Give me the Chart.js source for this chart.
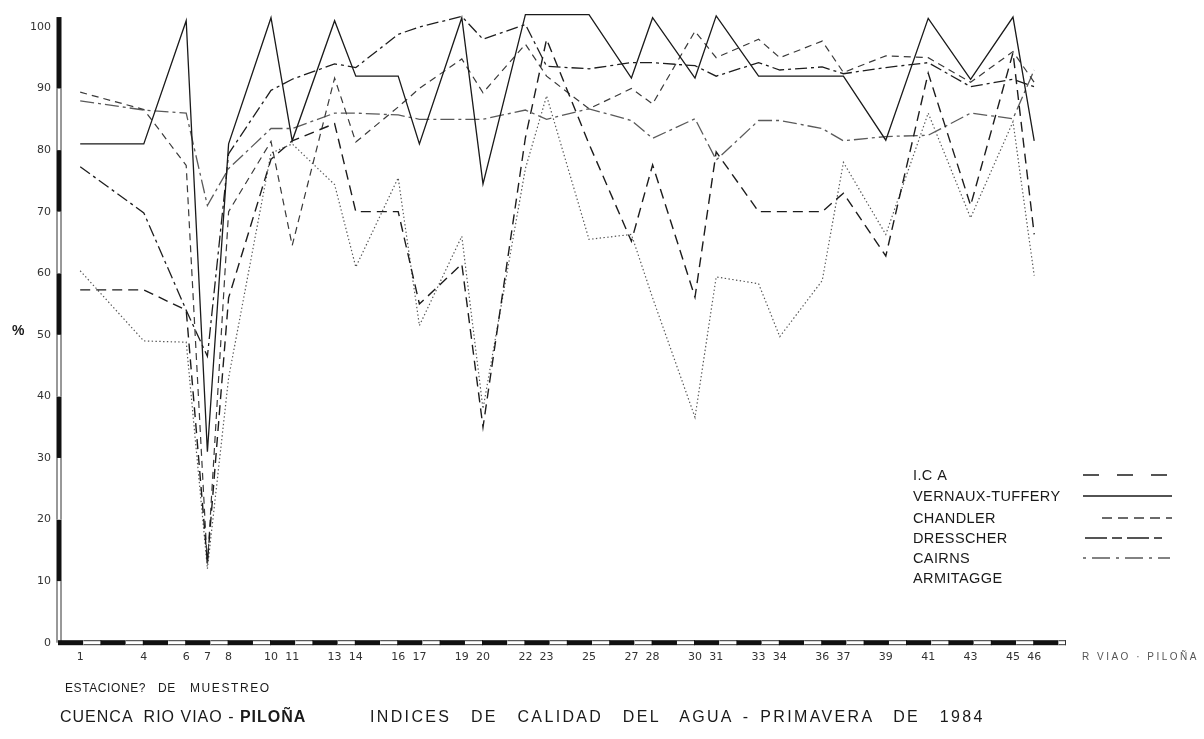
<!DOCTYPE html>
<html lang="es">
<head>
<meta charset="utf-8">
<title>Cuenca Río Viao - Piloña · Índices de calidad del agua</title>
<script src="https://cdn.jsdelivr.net/npm/chart.js@4.4.1/dist/chart.umd.min.js"></script>
<style>
  html, body { margin: 0; padding: 0; background: #fff; }
  #wrap { position: relative; width: 1204px; height: 739px; overflow: hidden; }
  #c { position: absolute; left: 0; top: 0; }
  .txt { position: absolute; white-space: pre; font-family: "Liberation Sans", Arial, sans-serif; color: #1a1a1a; line-height: 1; }
</style>
</head>
<body>
<div id="wrap">
  <canvas id="c" width="1204" height="739"></canvas>
  <div class="txt" style="left:12px;top:323px;font-size:14px;font-weight:bold;">%</div>
  <div class="txt" style="left:1082px;top:652px;font-size:10px;letter-spacing:2.5px;color:#555;">R VIAO · PILOÑA</div>
  <div class="txt" style="left:65px;top:682px;font-size:12px;letter-spacing:0.6px;">ESTACIONE?</div>
  <div class="txt" style="left:158px;top:682px;font-size:12px;letter-spacing:0.6px;">DE</div>
  <div class="txt" style="left:190px;top:682px;font-size:12px;letter-spacing:1.6px;">MUESTREO</div>
  <div class="txt" style="left:60px;top:709px;font-size:16px;letter-spacing:1px;">CUENCA  RIO VIAO - <b>PILOÑA</b></div>
  <div class="txt" style="left:370px;top:709px;font-size:16px;letter-spacing:2.35px;word-spacing:3px;">INDICES  DE  CALIDAD  DEL  AGUA - PRIMAVERA  DE  1984</div>
</div>
<script>
// Sampling stations along the Viao - Piloña river
const stations = [1, 4, 6, 7, 8, 10, 11, 13, 14, 16, 17, 19, 20, 22, 23, 25, 27, 28, 30, 31, 33, 34, 36, 37, 39, 41, 43, 45, 46];

// Percentage axis ticks
const percentTicks = [0, 10, 20, 30, 40, 50, 60, 70, 80, 90, 100];

// Water-quality indices (%) per station, spring 1984
const ica       = [57.3, 57.3, 54, 13, 56, 78.5, 81.5, 84.3, 70, 70, 55, 61.5, 35, 82, 98, 81, 65.2, 77.6, 56.1, 79.7, 70, 70, 70, 73, 62.8, 92.5, 71, 95.8, 66.3];
const vernaux   = [81, 81, 101, 31, 81, 101.5, 81.5, 101, 92, 92, 81, 101.5, 74.5, 102, 102, 102, 91.7, 101.5, 91.7, 101.8, 92, 92, 92, 92, 81.6, 101.4, 91.5, 101.6, 81.5];
const chandler  = [89.4, 86.6, 77.5, 12.5, 70, 81.4, 64.5, 91.7, 81.3, 87, 90, 94.8, 89.3, 97.2, 92, 86.7, 90, 87.5, 99.3, 95, 98, 95, 97.7, 92.6, 95.3, 95, 91, 96, 91];
const dresscher = [77.3, 69.8, 54, 46.5, 79.4, 89.7, 91.5, 94, 93.4, 98.8, 100, 101.7, 98, 100.4, 93.6, 93.2, 94.2, 94.2, 93.7, 92, 94.2, 93, 93.5, 92.4, 93.4, 94.2, 90.3, 91.5, 90.3];
const cairns    = [88, 86.5, 86, 71, 77, 83.5, 83.5, 86, 86, 85.7, 85, 85, 85, 86.5, 85, 86.7, 84.8, 81.9, 85.1, 78.4, 84.8, 84.8, 83.5, 81.5, 82.2, 82.4, 86, 85.1, 93];
const armitagge = [60.4, 49, 48.8, 12, 43, 79.5, 81, 74.4, 61, 75.5, 51.5, 66, 38, 77, 88.8, 65.5, 66.3, 56, 36.6, 59.4, 58.3, 49.7, 58.8, 78, 66.3, 86, 69, 84.6, 59.6];

const toPoints = vals => stations.map((s, i) => ({ x: s, y: vals[i] }));

// Line styles of each index, with the dash used in the key
const series = [
  { label: 'I.C A',           data: ica,       color: '#1c1c1c', width: 1.4, dash: [10, 6],        keyDash: [16, 18],      key: [1083, 1173] },
  { label: 'VERNAUX-TUFFERY', data: vernaux,   color: '#1a1a1a', width: 1.3, dash: [],             keyDash: [],            key: [1083, 1172] },
  { label: 'CHANDLER',        data: chandler,  color: '#3a3a3a', width: 1.2, dash: [7, 5],         keyDash: [10, 6],       key: [1102, 1172] },
  { label: 'DRESSCHER',       data: dresscher, color: '#1e1e1e', width: 1.3, dash: [12, 4, 3, 4],  keyDash: [22, 5, 10, 5],key: [1085, 1162] },
  { label: 'CAIRNS',          data: cairns,    color: '#5a5a5a', width: 1.3, dash: [14, 4, 3, 4],  keyDash: [3, 6, 18, 6], key: [1083, 1170] },
  { label: 'ARMITAGGE',       data: armitagge, color: '#555555', width: 1.2, dash: [1.4, 2.4],     keyDash: null,          key: null }
];

// Hand-drawn style axes: banded vertical and horizontal bars
const bandedAxes = {
  id: 'bandedAxes',
  afterDatasetsDraw(chart) {
    const { ctx, scales: { x, y } } = chart;
    ctx.save();
    const ink = '#111';
    // vertical bar, alternating every 10 %
    const vx = chart.chartArea.left - 2.5, vw = 5;
    for (let v = 0; v < 100; v += 10) {
      const top = y.getPixelForValue(v === 90 ? 101.6 : v + 10);
      const bot = y.getPixelForValue(v);
      if ((v / 10) % 2 === 1) {
        ctx.fillStyle = ink;
        ctx.fillRect(vx, top, vw, bot - top);
      } else {
        ctx.fillStyle = '#fff';
        ctx.fillRect(vx, top, vw, bot - top);
        ctx.strokeStyle = '#333';
        ctx.lineWidth = 1;
        ctx.beginPath();
        ctx.moveTo(vx + 0.5, top); ctx.lineTo(vx + 0.5, bot);
        ctx.moveTo(vx + vw - 0.5, top); ctx.lineTo(vx + vw - 0.5, bot);
        ctx.stroke();
      }
    }
    // horizontal bar, black / open segments every two stations
    const hy = y.getPixelForValue(0) - 2.5, hh = 5;
    const xmax = x.max;
    for (let s = 0; s < xmax; s += 2) {
      const b0 = x.getPixelForValue(s) - 1;
      const b1 = x.getPixelForValue(Math.min(s + 1.15, xmax));
      ctx.fillStyle = ink;
      ctx.fillRect(b0, hy, b1 - b0, hh);
      if (s + 1.15 < xmax) {
        const w1 = x.getPixelForValue(Math.min(s + 2, xmax));
        ctx.fillStyle = '#fff';
        ctx.fillRect(b1, hy, w1 - b1, hh);
        ctx.strokeStyle = '#333';
        ctx.lineWidth = 1;
        ctx.beginPath();
        ctx.moveTo(b1, hy + 0.5); ctx.lineTo(w1, hy + 0.5);
        ctx.moveTo(b1, hy + hh - 0.5); ctx.lineTo(w1, hy + hh - 0.5);
        if (w1 >= x.getPixelForValue(xmax) - 0.5) { ctx.moveTo(w1 - 0.5, hy); ctx.lineTo(w1 - 0.5, hy + hh); }
        ctx.stroke();
      }
    }
    ctx.restore();
  }
};

// Key in the lower right corner of the plot
const keyRows = [476, 497, 519, 539, 559, 579];
const keyText = {
  id: 'keyText',
  afterDraw(chart) {
    const { ctx } = chart;
    ctx.save();
    ctx.font = '14.5px "Liberation Sans", Arial, sans-serif';
    ctx.textBaseline = 'middle';
    ctx.fillStyle = '#1a1a1a';
    if ('letterSpacing' in ctx) ctx.letterSpacing = '0.4px';
    chart.data.datasets.forEach((ds, i) => {
      const yRow = keyRows[i];
      ctx.fillText(ds.label, 913, yRow);
      const s = series[i];
      if (s.key) {
        ctx.strokeStyle = ds.borderColor;
        ctx.lineWidth = 1.6;
        ctx.setLineDash(s.keyDash);
        ctx.beginPath();
        ctx.moveTo(s.key[0], yRow - 1);
        ctx.lineTo(s.key[1], yRow - 1);
        ctx.stroke();
        ctx.setLineDash([]);
      }
    });
    ctx.restore();
  }
};

const tickFont = { family: '"DejaVu Sans", sans-serif', size: 11 };

new Chart(document.getElementById('c'), {
  type: 'line',
  data: {
    datasets: series.map(s => ({
      label: s.label,
      data: toPoints(s.data),
      borderColor: s.color,
      borderWidth: s.width,
      borderDash: s.dash,
      pointRadius: 0,
      tension: 0,
      fill: false,
      clip: false
    }))
  },
  options: {
    responsive: false,
    devicePixelRatio: 1,
    animation: false,
    events: [],
    layout: { padding: { left: 0, right: 138, top: 8, bottom: 66.3 } },
    plugins: { legend: { display: false }, tooltip: { enabled: false }, title: { display: false } },
    scales: {
      x: {
        type: 'linear',
        min: 0,
        max: 47.5,
        grid: { display: false, drawTicks: false },
        border: { display: false },
        afterBuildTicks: axis => { axis.ticks = stations.map(v => ({ value: v })); },
        afterFit: axis => { axis.height = 30; },
        ticks: { autoSkip: false, maxRotation: 0, padding: 8, color: '#333', font: tickFont, callback: v => String(v) }
      },
      y: {
        min: 0,
        max: 102,
        grid: { display: false, drawTicks: false },
        border: { display: false },
        afterBuildTicks: axis => { axis.ticks = percentTicks.map(v => ({ value: v })); },
        afterFit: axis => { axis.width = 59; },
        ticks: { padding: 8, color: '#333', font: tickFont, callback: v => String(v) }
      }
    }
  },
  plugins: [bandedAxes, keyText]
});
</script>
</body>
</html>
